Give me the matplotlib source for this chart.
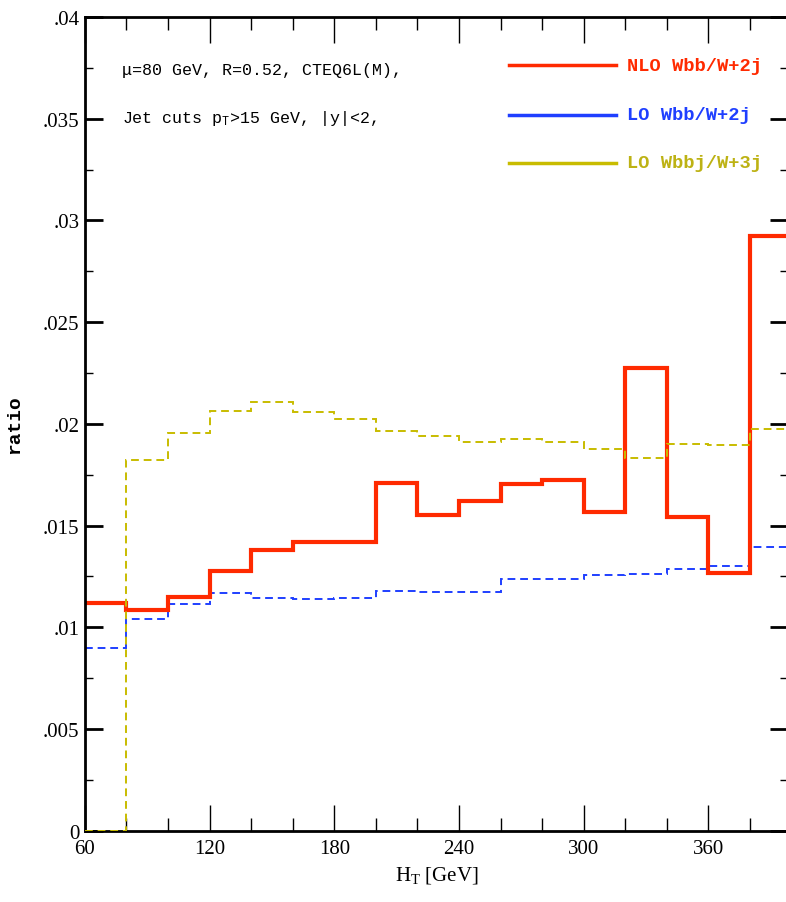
import numpy as np
import matplotlib
matplotlib.use("Agg")
import matplotlib.pyplot as plt
from matplotlib.ticker import MultipleLocator, FuncFormatter

# bin edges in H_T [GeV]
edges = [60, 80, 100, 120, 140, 160, 180, 200, 220, 240, 260, 280, 300, 320, 340, 360, 380, 400]

# NLO Wbb/W+2j
nlo_wbb = [0.01121, 0.01085, 0.01149, 0.01279, 0.01379, 0.01418, 0.01418, 0.01707,
           0.01551, 0.01619, 0.01706, 0.01722, 0.01567, 0.02273, 0.01541, 0.01268, 0.02926]
# LO Wbb/W+2j
lo_wbb = [0.00899, 0.01039, 0.01116, 0.01170, 0.01145, 0.01137, 0.01145, 0.01178,
          0.01175, 0.01175, 0.01239, 0.01239, 0.01255, 0.01263, 0.01288, 0.01301, 0.01396]
# LO Wbbj/W+3j
lo_wbbj = [0.0, 0.01824, 0.01957, 0.02065, 0.02106, 0.02057, 0.02026, 0.01965,
           0.01938, 0.01910, 0.01926, 0.01910, 0.01877, 0.01832, 0.01902, 0.01894, 0.01974]

labels = ['NLO Wbb/W+2j', 'LO Wbb/W+2j', 'LO Wbbj/W+3j']
colors = ['#ff2a00', '#1f3fff', '#c8bc00']
text_colors = ['#ff2a00', '#1f3fff', '#bdb214']

plt.rcParams['font.family'] = ['Liberation Serif', 'DejaVu Serif']
plt.rcParams['mathtext.default'] = 'regular'

fig = plt.figure(figsize=(7.86, 9.03), dpi=100)
ax = fig.add_axes([0.108, 0.079, 0.895, 0.901])

ax.stairs(lo_wbbj, edges, baseline=None, color=colors[2], lw=1.4, linestyle=(0, (4, 2.5)), zorder=3)
ax.stairs(lo_wbb, edges, baseline=None, color=colors[1], lw=1.4, linestyle=(0, (4, 2.5)))
ax.stairs(nlo_wbb, edges, baseline=None, color=colors[0], lw=3.0)

ax.set_xlim(60, 398.5)
ax.set_ylim(0, 0.04)

ax.xaxis.set_major_locator(MultipleLocator(60))
ax.xaxis.set_minor_locator(MultipleLocator(20))
ax.yaxis.set_major_locator(MultipleLocator(0.005))
ax.yaxis.set_minor_locator(MultipleLocator(0.0025))

def fmt_y(v, pos):
    if abs(v) < 1e-9:
        return '0'
    s = ('%.3f' % v).rstrip('0')
    return s.lstrip('0')

ax.yaxis.set_major_formatter(FuncFormatter(fmt_y))

ax.tick_params(axis='both', which='both', direction='in', top=True, right=True)
ax.tick_params(axis='x', which='major', length=19, width=1.0, labelsize=15, pad=6)
ax.tick_params(axis='x', which='minor', length=9.5, width=1.0)
ax.tick_params(axis='y', which='major', length=13, width=2.0, labelsize=15, pad=4)
ax.tick_params(axis='y', which='minor', length=6, width=1.0)
for sp in ax.spines.values():
    sp.set_linewidth(2.0)

ax.set_xlabel('H$_T$ [GeV]', fontsize=15, labelpad=4)
ax.set_ylabel('ratio', fontsize=14, fontweight='bold', family=['Liberation Mono', 'DejaVu Sans Mono'])
ax.yaxis.set_label_coords(-0.088, 0.5)

# legend drawn by hand
leg_y = [0.941, 0.880, 0.821]
for lab, c, tc, yy in zip(labels, colors, text_colors, leg_y):
    ax.plot([0.6026, 0.755], [yy, yy], transform=ax.transAxes, color=c, lw=2.5, clip_on=False)
    ax.text(0.771, yy, lab, transform=ax.transAxes, color=tc, fontsize=13.5, fontweight='bold',
            family=['Liberation Mono', 'DejaVu Sans Mono'], va='center', ha='left')

ax.text(0.053, 0.936, 'μ=80 GeV, R=0.52, CTEQ6L(M),', transform=ax.transAxes, fontsize=12,
        family=['Liberation Mono', 'DejaVu Sans Mono'], va='center', ha='left')
ax.text(0.053, 0.877, 'Jet cuts p$_T$>15 GeV, |y|<2,', transform=ax.transAxes, fontsize=12,
        family=['Liberation Mono', 'DejaVu Sans Mono'], va='center', ha='left')

fig.savefig('out.png', dpi=100)
